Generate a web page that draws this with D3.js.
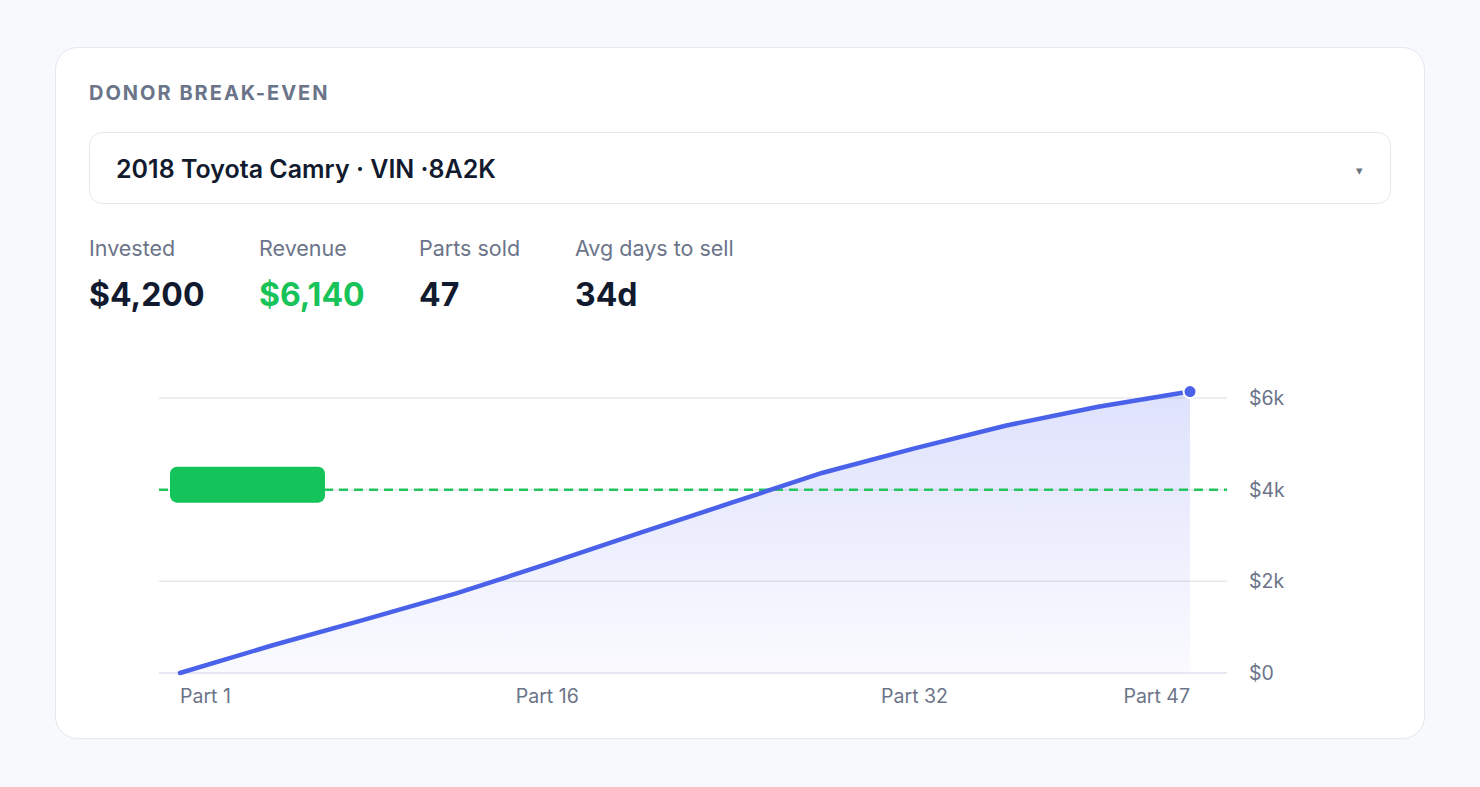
<!DOCTYPE html>
<html>
<head>
<meta charset="utf-8">
<script src="https://cdn.jsdelivr.net/npm/d3@7"></script>
<style>
  html, body { margin: 0; padding: 0; background: #f8f9fc; }
  body { width: 1480px; height: 787px; overflow: hidden; font-family: Inter, "Noto Sans", sans-serif; }
</style>
</head>
<body>
<div id="root"></div>
<script>
const width = 1480;
const height = 787;

// data
const parts = ["Part 1", "Part 5", "Part 9", "Part 13", "Part 16", "Part 20",
  "Part 24", "Part 28", "Part 32", "Part 37", "Part 42", "Part 47"];
const revenue = [0, 600, 1160, 1730, 2380, 3050, 3710, 4370, 4900, 5400, 5810, 6140];
const xTicks = ["Part 1", "Part 16", "Part 32", "Part 47"];
const yTicks = [0, 2000, 4000, 6000];
const invested = 4000;
const statLabels = ["Invested", "Revenue", "Parts sold", "Avg days to sell"];
const statValues = ["$4,200", "$6,140", "47", "34d"];

const svg = d3.select("#root")
  .append("svg")
  .attr("width", width)
  .attr("height", height)
  .attr("viewBox", `0 0 ${width} ${height}`);

const defs = svg.append("defs");
const grad = defs.append("linearGradient")
  .attr("id", "areaGrad")
  .attr("x1", 0).attr("y1", 0).attr("x2", 0).attr("y2", 1);
grad.append("stop").attr("offset", "0%").attr("stop-color", "#5b6cf0").attr("stop-opacity", 0.2);
grad.append("stop").attr("offset", "100%").attr("stop-color", "#5b6cf0").attr("stop-opacity", 0.03);

// card
svg.append("rect")
  .attr("x", 55.5).attr("y", 47.5)
  .attr("width", 1369).attr("height", 691)
  .attr("rx", 22)
  .attr("fill", "#ffffff")
  .attr("stroke", "#e3e7ef");

svg.append("text")
  .text("DONOR BREAK-EVEN")
  .attr("x", 89).attr("y", 100)
  .attr("fill", "#6b7489")
  .style("font-size", "20px")
  .style("font-weight", 700)
  .style("letter-spacing", "0.1em");

// select box
svg.append("rect")
  .attr("x", 89.5).attr("y", 132.5)
  .attr("width", 1301).attr("height", 71)
  .attr("rx", 13)
  .attr("fill", "#ffffff")
  .attr("stroke", "#e3e7ef");

svg.append("text")
  .text("2018 Toyota Camry · VIN ·8A2K")
  .attr("x", 116).attr("y", 178)
  .attr("fill", "#111a2e")
  .style("font-size", "25px")
  .style("font-weight", 600);

svg.append("text")
  .text("▾")
  .attr("x", 1359).attr("y", 175)
  .attr("text-anchor", "middle")
  .attr("fill", "#6b7280")
  .style("font-size", "13px");

// stats
const statX = [89, 259, 419, 575];
const stats = svg.append("g")
  .selectAll("g")
  .data(statLabels)
  .join("g")
  .attr("transform", (d, i) => `translate(${statX[i]}, 0)`);

stats.append("text")
  .text((d) => d)
  .attr("y", 256)
  .attr("fill", "#6b7489")
  .style("font-size", "21.5px");

stats.append("text")
  .text((d, i) => statValues[i])
  .attr("y", 306)
  .attr("fill", (d, i) => (i === 1 ? "#18c35a" : "#111a2e"))
  .style("font-size", "32px")
  .style("font-weight", 700);

// chart
const xScale = d3.scalePoint().domain(parts).range([180, 1190]);
const yScale = d3.scaleLinear().domain([0, 6000]).range([673, 398]);

const chart = svg.append("g");

chart.selectAll(".grid")
  .data(yTicks)
  .join("line")
  .attr("class", "grid")
  .attr("x1", 159).attr("x2", 1227)
  .attr("y1", (d) => yScale(d)).attr("y2", (d) => yScale(d))
  .attr("stroke", (d) => (d === 0 ? "#dfe2ee" : "#e6e8ee"))
  .attr("stroke-width", 1.5);

const area = d3.area()
  .x((d, i) => xScale(parts[i]))
  .y0(yScale(0))
  .y1((d) => yScale(d));

chart.append("path")
  .datum(revenue)
  .attr("d", area)
  .attr("fill", "url(#areaGrad)");

chart.selectAll(".ylab")
  .data(yTicks)
  .join("text")
  .attr("class", "ylab")
  .text((d) => (d === 0 ? "$0" : `$${d / 1000}k`))
  .attr("x", 1249)
  .attr("y", (d) => yScale(d))
  .attr("dominant-baseline", "central")
  .attr("fill", "#6b7489")
  .style("font-size", "19.5px");

// break-even line
chart.append("line")
  .attr("x1", 159).attr("x2", 1227)
  .attr("y1", yScale(invested)).attr("y2", yScale(invested))
  .attr("stroke", "#22c55e")
  .attr("stroke-width", 2.5)
  .attr("stroke-dasharray", "9 6");

chart.append("rect")
  .attr("x", 170).attr("y", yScale(invested) - 23)
  .attr("width", 155).attr("height", 36)
  .attr("rx", 7)
  .attr("fill", "#14c35a");

const line = d3.line()
  .x((d, i) => xScale(parts[i]))
  .y((d) => yScale(d));

chart.append("path")
  .datum(revenue)
  .attr("d", line)
  .attr("fill", "none")
  .attr("stroke", "#4a62ea")
  .attr("stroke-width", 4.5)
  .attr("stroke-linecap", "round")
  .attr("stroke-linejoin", "round");

const last = revenue.length - 1;
chart.append("circle")
  .attr("cx", xScale(parts[last]))
  .attr("cy", yScale(revenue[last]))
  .attr("r", 6.5)
  .attr("fill", "#4a62ea")
  .attr("stroke", "#ffffff")
  .attr("stroke-width", 2);

chart.selectAll(".xlab")
  .data(xTicks)
  .join("text")
  .attr("class", "xlab")
  .text((d) => d)
  .attr("x", (d) => xScale(d))
  .attr("y", 703)
  .attr("text-anchor", (d, i) => (i === 0 ? "start" : i === xTicks.length - 1 ? "end" : "middle"))
  .attr("fill", "#6b7489")
  .style("font-size", "19.5px");
</script>
</body>
</html>
